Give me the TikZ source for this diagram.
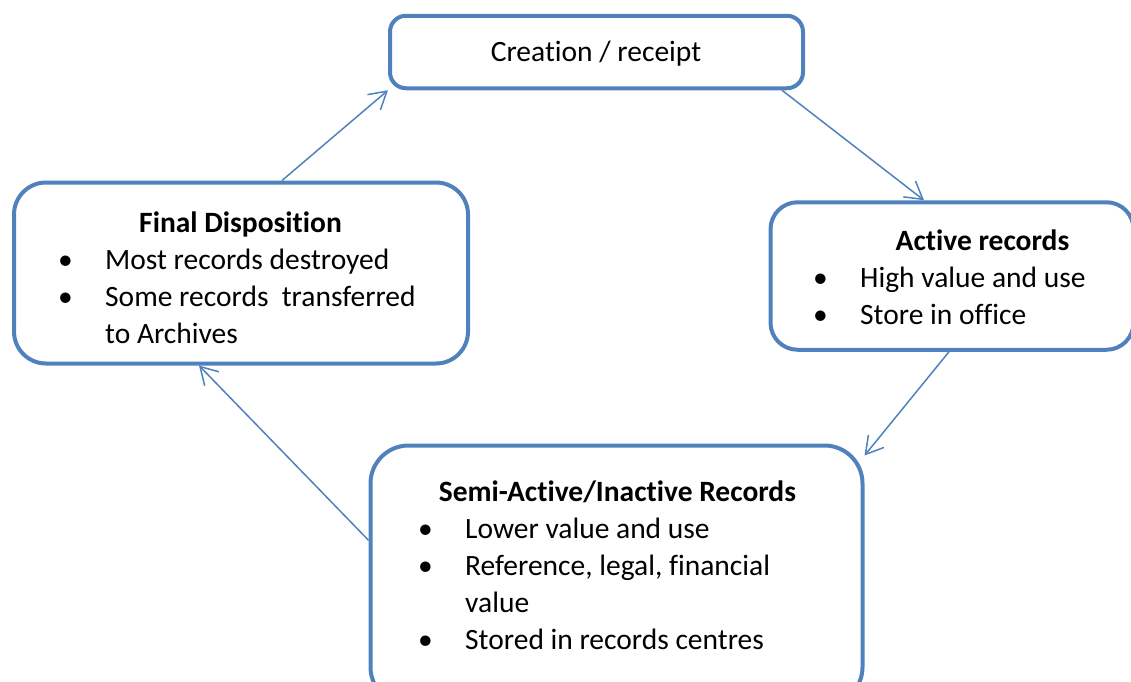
\documentclass[tikz,border=0pt]{standalone}
\usepackage{fontspec}
\setmainfont{Carlito}[Ligatures=CommonOff]
\usetikzlibrary{positioning,arrows.meta}
\definecolor{boxblue}{HTML}{4F81BD}
\newcommand{\bodyfont}{\fontsize{29.5pt}{37pt}\selectfont}
\tikzset{
  stage/.style={rectangle, rounded corners=#1, draw=boxblue, line width=4pt, fill=white, inner sep=0pt},
  stage/.default=30pt,
  hd/.style={anchor=base, inner sep=0pt, font=\bodyfont\bfseries},
  lst/.style={anchor=base west, inner sep=0pt, font=\bodyfont},
  arr/.style={draw=boxblue, line width=1.5pt, -{Straight Barb[length=17pt,width=20pt,line width=1.5pt]}},
  node distance=7mm
}
\newcommand{\lstbox}[1]{\begin{tabular}[t]{@{}p{47pt}@{}l@{}}#1\end{tabular}}

\begin{document}
\begin{tikzpicture}[x=1pt, y=-1pt]
	\useasboundingbox (0,0) rectangle (1131,681);
	% stages of the cycle
	\node[stage=16pt, minimum width=413pt, minimum height=72.5pt] (creation) at (596.5,52) {};
	\node[stage=27pt, minimum width=363pt, minimum height=147.5pt] (active) at (952,276) {};
	\node[stage=38pt, minimum width=492pt, minimum height=259.5pt] (semi) at (616.5,575.25) {};
	\node[stage=32pt, minimum width=454pt, minimum height=181pt] (final) at (241,273) {};
	
	\node[anchor=base, inner sep=0pt, font=\bodyfont] (creationtxt) at (596,61) {Creation / receipt};
	
	\node[hd] (activehd) at (982.5,250) {Active records};
	\node[lst] (activelst) at (813,287) {\lstbox{\textbullet & High value and use\\ \textbullet & Store in office}};
	
	\node[hd] (semihd) at (617.5,501) {Semi-Active/Inactive Records};
	\node[lst] (semilst) at (418,538) {\lstbox{\textbullet & Lower value and use\\ \textbullet & Reference, legal, financial\\ & value\\ \textbullet & Stored in records centres}};
	
	\node[hd] (finalhd) at (240.5,232) {Final Disposition};
	\node[lst] (finallst) at (58,269) {\lstbox{\textbullet & Most records destroyed\\ \textbullet & Some records\ \ transferred\\ & to Archives}};
	
	% connectors
	\draw[arr] ([xshift=185.5pt]creation.south) -- ([xshift=-28pt]active.north);
	\draw[arr] ([xshift=-3pt]active.south) -- ([yshift=-12pt]semi.north east);
	\draw[arr] ([yshift=35pt]semi.west) -- ([xshift=-42pt]final.south);
	\draw[arr] ([xshift=41pt]final.north) -- (creation.south west);
\end{tikzpicture}
\end{document}
